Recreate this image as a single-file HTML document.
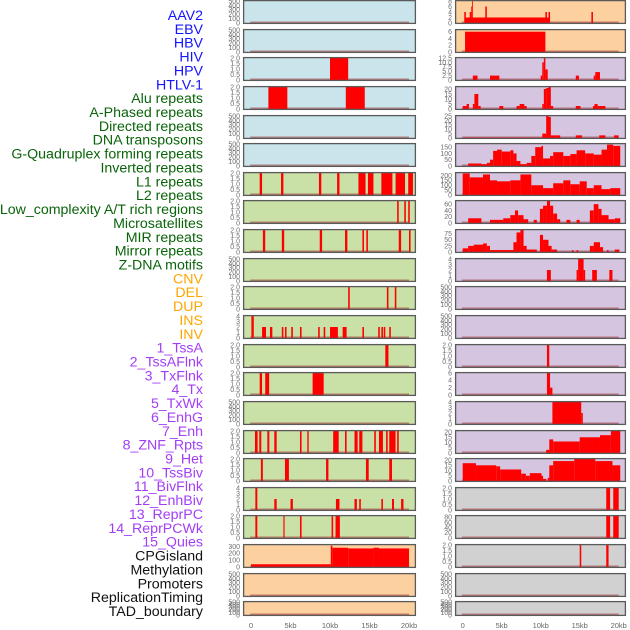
<!DOCTYPE html>
<html><head><meta charset="utf-8"><style>
html,body{margin:0;padding:0;background:#fff;width:630px;height:630px;overflow:hidden}
svg{display:block;font-family:"Liberation Sans",sans-serif}
</style></head><body>
<svg id="chart" width="630" height="630" viewBox="0 0 630 630"></svg>
<script>
// ---- labels ----
const trackLabels = ["AAV2","EBV","HBV","HIV","HPV","HTLV-1","Alu repeats","A-Phased repeats","Directed repeats","DNA transposons","G-Quadruplex forming repeats","Inverted repeats","L1 repeats","L2 repeats","Low_complexity A/T rich regions","Microsatellites","MIR repeats","Mirror repeats","Z-DNA motifs","CNV","DEL","DUP","INS","INV","1_TssA","2_TssAFlnk","3_TxFlnk","4_Tx","5_TxWk","6_EnhG","7_Enh","8_ZNF_Rpts","9_Het","10_TssBiv","11_BivFlnk","12_EnhBiv","13_ReprPC","14_ReprPCWk","15_Quies","CPGisland","Methylation","Promoters","ReplicationTiming","TAD_boundary"];
const labelGroups = [6,13,5,15,5];
const groupColors = ["#1414ff","#0a640a","#ffa500","#a33ef5","#111111"];
const xTickLabels = ["0","5kb","10kb","15kb","20kb"];
const xTickValues = [0,5,10,15,20];

// ---- tick sets ----
const T500 = [0,100,200,300,400,500];
const T2 = [0,0.5,1.0,1.5,2.0];
const T4 = [0,1,2,3,4];

// ---- left column series [startKb, endKb, value] ----
const L0 = [], L1 = [], L4 = [], L5 = [], L9 = [], L14 = [], L20 = [], L21 = [];
const L2 = [[10.0,12.3,2]];
const L3 = [[2.2,4.6,2],[12.0,14.4,2]];
const L6 = [[1.1,1.4,2],[3.8,4.1,2],[8.6,8.9,2],[10.9,11.2,2],[13.6,14.5,2],[14.8,15.5,2],[16.5,17.9,2],[18.3,19.5,2],[19.9,20.5,2]];
const L7 = [[18.5,18.7,2],[19.4,19.6,2],[19.9,20.1,2]];
const L8 = [[1.5,1.8,2],[3.9,4.2,2],[8.7,9.0,2],[11.9,12.2,2],[14.1,14.3,2],[14.6,14.8,2],[18.7,19.0,2],[20.0,20.2,2]];
const L10 = [[12.3,12.5,2],[17.2,17.4,2],[18.2,18.4,2]];
const L11 = [[0.05,0.35,4],[1.4,1.9,2],[2.4,2.7,2],[3.9,4.1,2],[4.3,4.5,2],[5.1,5.3,2],[6.2,6.4,2],[8.5,8.7,2],[9.2,9.4,2],[10.0,11.0,2],[11.6,12.1,2],[14.1,14.3,2],[16.1,16.3,2],[16.5,16.7,2],[16.8,17.0,2],[17.5,17.7,2]];
const L12 = [[17.0,17.4,2]];
const L13 = [[1.1,1.4,2],[1.8,2.3,2],[7.8,9.2,2]];
const L15 = [[0.5,0.84,2],[1.05,1.3,2],[2.07,2.32,2],[2.95,3.25,2],[6.2,6.4,2],[7.13,7.3,2],[10.4,11.1,2],[11.9,12.1,2],[13.1,13.5,2],[13.7,14.1,2],[15.6,15.8,2],[16.2,16.7,2],[17.1,17.3,2],[17.5,18.3,2],[18.5,18.7,2]];
const L16 = [[1.25,1.5,2],[4.3,4.8,2],[9.5,9.8,2],[14.55,14.9,2],[17.5,17.85,2]];
const L17 = [[0.55,0.8,4],[2.95,3.25,2],[5.0,5.3,2],[10.75,11.2,2],[13.1,13.4,2],[13.7,13.9,2],[16.5,16.7,2],[17.85,18.1,2],[19.0,19.3,2]];
const L18 = [[0.55,0.8,2],[4.1,4.25,2],[6.2,6.4,2],[10.2,10.4,2],[10.7,11.25,2]];
const L19 = [[0,10.1,40],[10.1,10.3,310],[10.3,12.3,280],[12.3,15.5,270],[15.5,16.2,280],[16.2,20.0,270]];

// ---- right column series ----
const R0 = [[0.3,11.0,2],[0.2,0.4,4],[0.9,1.1,4],[1.1,1.2,6],[1.2,1.3,8],[2.9,3.1,6],[10.6,10.8,4],[11.0,11.2,4],[16.5,16.7,4]];
const R1 = [[0.3,10.6,6]];
const R2 = [[1.3,1.9,2.5],[3.5,4.7,2.5],[10.0,10.2,2.5],[10.2,10.4,10],[10.4,10.6,12.5],[10.6,10.9,6],[14.5,14.9,2.5],[16.8,17.0,2.5],[17.0,17.6,4.5]];
const R3 = [[0,0.5,3],[0.5,0.8,5],[1.3,1.5,5],[1.5,2.0,15],[2.0,2.3,3],[4.7,5.2,3],[6.9,7.3,3],[7.3,7.9,5],[7.9,8.2,3],[10.2,10.4,5],[10.4,10.7,20],[10.7,11.0,21],[11.0,11.3,22],[11.3,11.6,3],[14.5,15.1,3],[16.7,16.9,3],[16.9,17.3,5],[17.3,18.3,3]];
const R4 = [[0.1,10.2,0.5],[10.2,10.7,5],[10.7,11.0,25],[11.0,11.3,24],[11.3,12.0,3],[12.0,12.5,3],[14.5,15.3,3],[17.5,18.3,3],[19.4,20.0,3]];
const R5 = [[0.7,2.4,20],[2.4,3.1,15],[3.1,3.5,25],[3.5,3.9,50],[3.9,4.4,120],[4.4,5.0,130],[5.0,6.1,115],[6.1,6.5,125],[6.5,6.9,100],[6.9,7.4,40],[7.4,8.2,15],[8.2,8.8,25],[8.8,9.3,80],[9.3,10.1,150],[10.1,10.3,160],[10.3,11.2,60],[11.2,11.6,80],[11.6,12.9,110],[12.9,13.8,80],[13.8,14.6,95],[14.6,15.7,125],[15.7,16.8,100],[16.8,17.8,90],[17.8,18.5,130],[18.5,19.3,170],[19.3,20.2,160]];
const R6 = [[0,0.9,220],[0.9,2.6,180],[2.6,3.5,210],[3.5,4.4,150],[4.4,6.1,140],[6.1,7.4,150],[7.4,8.8,210],[8.8,10.3,100],[10.3,11.6,70],[11.6,12.9,120],[12.9,13.8,150],[13.8,15.0,110],[15.0,15.9,140],[15.9,16.8,70],[16.8,17.8,100],[17.8,18.9,60],[18.9,20.2,70]];
const R7 = [[0.7,2.4,15],[3.5,5.2,10],[5.2,6.1,15],[6.1,6.7,25],[6.7,7.1,40],[7.1,7.8,25],[7.8,8.4,12],[9.1,9.5,10],[9.9,10.3,45],[10.3,10.8,55],[10.8,11.2,70],[11.2,11.6,55],[11.6,12.1,30],[12.1,12.5,12],[13.3,13.8,10],[14.6,15.0,10],[16.3,16.8,40],[16.8,17.4,60],[17.4,17.8,45],[17.8,18.7,25],[18.7,19.5,12],[19.5,20.2,15]];
const R8 = [[0,0.7,15],[0.7,1.4,25],[1.4,2.6,30],[2.6,3.1,35],[3.1,3.5,25],[3.5,6.5,8],[6.5,6.9,40],[6.9,7.4,80],[7.4,7.8,90],[7.8,8.2,25],[8.2,9.5,10],[9.9,10.3,70],[10.3,11.0,50],[11.0,11.4,25],[11.4,12.1,10],[14.0,14.2,8],[14.6,14.8,8],[16.3,16.8,25],[16.8,17.6,40],[17.6,18.0,20],[18.5,18.7,8],[19.5,20.1,10]];
const R9 = [[10.8,11.3,2],[14.6,14.8,2],[14.8,15.5,4],[15.5,15.7,2],[16.6,17.2,2],[18.8,19.2,2]];
const R10 = [], R11 = [], R20 = [], R21 = [];
const R12 = [[10.8,11.1,2]];
const R13 = [[10.8,11.2,6],[11.2,11.5,2]];
const R14 = [[11.5,15.2,4],[15.2,15.4,2]];
const R15 = [[10.7,11.1,3],[11.1,11.6,13],[11.6,15.0,11],[15.0,17.6,15],[17.6,19.0,17],[19.0,20.2,21]];
const R16 = [[0,1.7,17],[1.7,4.3,15],[4.3,4.8,14],[4.8,7.5,11],[7.5,8.1,7],[8.1,8.6,5],[8.6,10.1,7.5],[10.1,10.3,5],[10.3,10.7,2],[10.9,11.1,3],[11.1,11.6,15],[11.6,14.3,19],[14.3,17.0,21],[17.0,19.2,19],[19.2,20.2,15]];
const R17 = [[18.4,18.9,2],[19.3,20.0,2]];
const R18 = [[18.4,18.9,85],[19.3,20.0,85]];
const R19 = [[15.0,15.2,2],[18.4,18.7,2]];

const leftSeries = [L0,L1,L2,L3,L4,L5,L6,L7,L8,L9,L10,L11,L12,L13,L14,L15,L16,L17,L18,L19,L20,L21];
const rightSeries = [R0,R1,R2,R3,R4,R5,R6,R7,R8,R9,R10,R11,R12,R13,R14,R15,R16,R17,R18,R19,R20,R21];
const leftTicks = [T500,T500,T2,T2,T500,T500,T2,T2,T2,T500,T2,T4,T2,T2,T500,T2,T2,T4,T2,[0,100,200,300],T500,T500];
const rightTicks = [[0,2,4,6,8],[0,2,4,6],[0,2.5,5.0,7.5,10.0,12.5],[0,5,10,15,20],[0,5,10,15,20,25],[0,50,100,150],[0,50,100,150,200],[0,20,40,60],[0,25,50,75],T4,T500,T500,T2,[0,2,4,6],T4,[0,5,10,15,20],[0,5,10,15,20],T2,[0,20,40,60,80],T2,T500,T500];
const leftYmax = [500,500,2,2,500,500,2,2,2,500,2,4,2,2,500,2,2,4,2,320,500,500];
const rightYmax = [8,6.5,12.5,22,25,175,225,70,90,4,500,500,2,6,4,21,21,2,85,2,500,500];
const leftBg = ["b","b","b","b","b","b","g","g","g","g","g","g","g","g","g","g","g","g","g","o","o","o"];
const rightBg = ["o","o","p","p","p","p","p","p","p","p","p","p","p","p","p","p","p","gr","gr","gr","gr","gr"];
const bgColors = {b:"#c9e4eb",g:"#c9e1a6",o:"#fdd09f",p:"#d5c5e1",gr:"#d1d1d1"};

const NS = "http://www.w3.org/2000/svg";
const svg = document.getElementById("chart");
function mk(tag, attrs, parent){ const e=document.createElementNS(NS,tag); for(const k in attrs) e.setAttribute(k,attrs[k]); (parent||svg).appendChild(e); return e; }

// labels
let idx=0;
labelGroups.forEach((n,g)=>{ for(let i=0;i<n;i++){ const t=mk("text",{x:203,y:20+idx*13.86,"text-anchor":"end","font-size":14.2,fill:groupColors[g]}); t.textContent=trackLabels[idx];


idx++; } });

const rowTops = [0,29,57,86,115,143,172,200,229,258,286,315,344,372,401,430,458,487,515,544,573,601];
const cols = [
  {x0:243,x1:416,zero:251,per:7.9,series:leftSeries,ticks:leftTicks,ymax:leftYmax,bg:leftBg,name:"left"},
  {x0:455,x1:626,zero:462.7,per:7.8,series:rightSeries,ticks:rightTicks,ymax:rightYmax,bg:rightBg,name:"right"}
];
cols.forEach(c=>{
  const xs = kb => c.zero + kb*c.per;
  rowTops.forEach((top,r)=>{
    const h = r===21 ? 15 : 24;
    const g = mk("g",{});
    
    
    mk("rect",{x:c.x0,y:top,width:c.x1-c.x0,height:h,fill:bgColors[c.bg[r]]},g);
    const y0 = top+h-1, y1 = top+1;
    const ys = v => y0 - (v/c.ymax[r])*(y0-y1);
    mk("rect",{x:xs(-0.1),y:y0-1.5,width:xs(20)-xs(-0.1),height:1.5,fill:"#a03030","fill-opacity":0.55},g);
    c.series[r].forEach(d=>{
      const yy = Math.max(y1, ys(d[2]));
      const b = mk("rect",{x:xs(d[0]),y:yy,width:Math.max(0.8,xs(d[1])-xs(d[0])),height:y0-yy,fill:"#ff0000"},g);
      
      
    });
    mk("rect",{x:c.x0+0.6,y:top+0.6,width:c.x1-c.x0-1.2,height:h-1.2,fill:"none",stroke:"#5a5a5a","stroke-width":1.3},g);
    c.ticks[r].forEach(v=>{
      const t = mk("text",{x:c.x0-3,y:ys(Math.min(v,c.ymax[r]))+2.4,"text-anchor":"end","font-size":7,fill:"#6e6e6e"},g);
      t.textContent = v===0?"0":(c.ticks[r].some(q=>q%1!==0)?v.toFixed(1):String(v));
    });
  });
  xTickValues.forEach((v,i)=>{
    const t = mk("text",{x:xs(v),y:628,"text-anchor":"middle","font-size":7.5,fill:"#666"});
    t.textContent = xTickLabels[i];
    
    
  });
});
</script>
</body></html>
